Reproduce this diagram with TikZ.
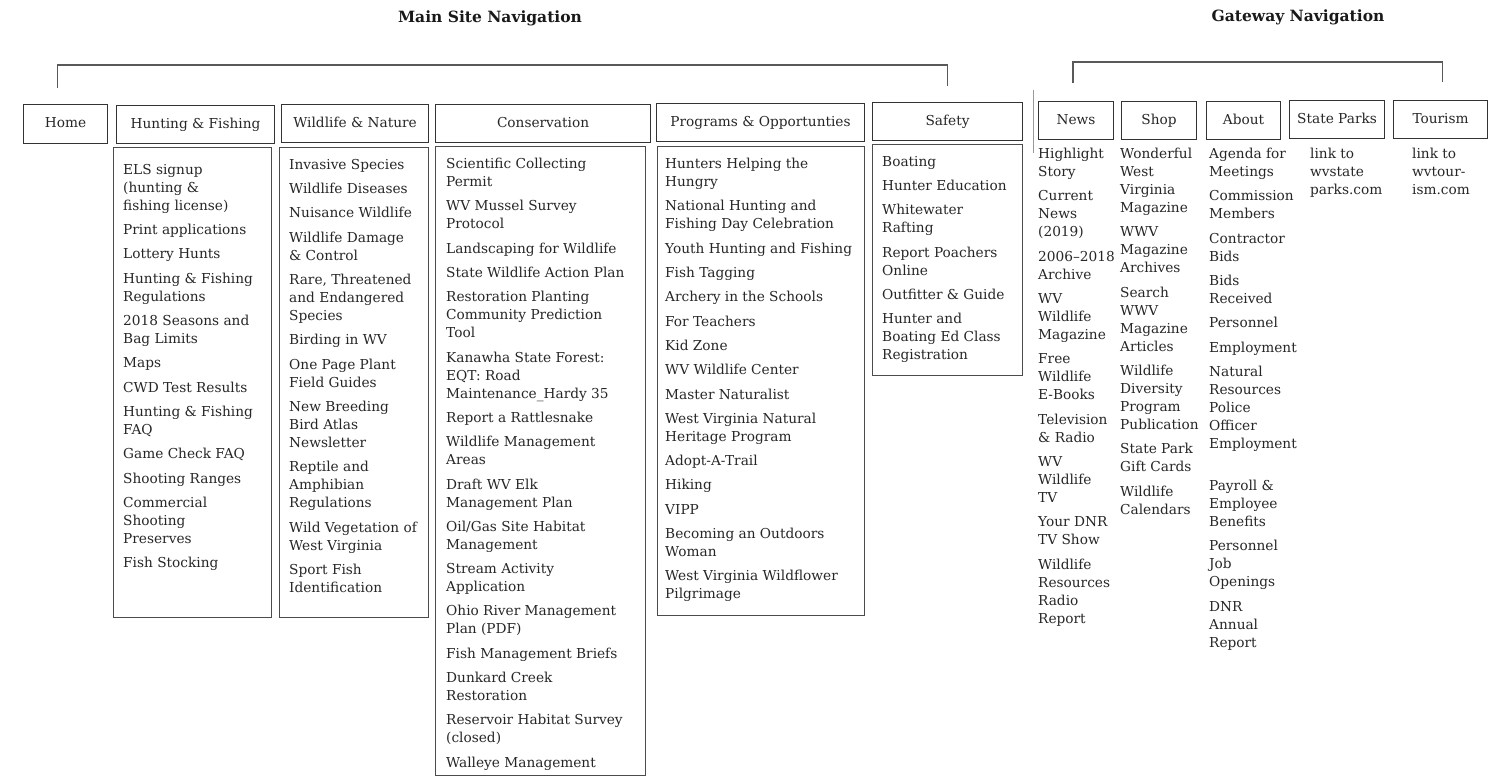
\documentclass[tikz,border=0pt]{standalone}
\usepackage{fontspec}
\setmainfont{DejaVu Serif}
\usetikzlibrary{positioning}
\newcommand{\nextitem}{\\[6.3pt]}

\begin{document}
\begin{tikzpicture}[x=1pt,y=-1pt,
    navbox/.style={draw=black!80,line width=1.1pt,anchor=north west,inner sep=0pt,
      font=\fontsize{13.7}{18}\selectfont,text=black!85,execute at begin node=\strut},
    listbox/.style={draw=black!70,line width=1.1pt,anchor=north west,inner sep=0pt},
    navlist/.style={anchor=north west,align=left,inner sep=0pt,
      font=\fontsize{13.7}{18}\selectfont,text=black!85,execute at begin node=\strut},
    navtitle/.style={font=\fontsize{15.5}{18}\bfseries\selectfont,text=black!90},
    bracket/.style={draw=black!65,line width=1.4pt}]
      \useasboundingbox (0,0) rectangle (1496,776);
      \node[navtitle] (maintitle) at (490,18) {Main Site Navigation};
      \node[navtitle] (gatetitle) at (1298,17) {Gateway Navigation};
      \node[navbox,minimum width=84pt,minimum height=39pt] (home) at (23,104) {Home};
      \node[navbox,minimum width=158pt,minimum height=38pt] (hunt) at (116,105) {Hunting \& Fishing};
      \node[navbox,minimum width=147pt,minimum height=38pt] (wild) at (281,104) {Wildlife \& Nature};
      \node[navbox,minimum width=215pt,minimum height=38pt] (cons) at (435,104) {Conservation};
      \node[navbox,minimum width=208pt,minimum height=38pt] (prog) at (656,103) {Programs \& Opportunties};
      \node[navbox,minimum width=150pt,minimum height=38pt] (safety) at (872,102) {Safety};
      \node[navbox,minimum width=75pt,minimum height=38pt] (news) at (1038,101) {News};
      \node[navbox,minimum width=75pt,minimum height=38pt] (shop) at (1121,101) {Shop};
      \node[navbox,minimum width=74pt,minimum height=38pt] (about) at (1206,101) {About};
      \node[navbox,minimum width=95pt,minimum height=38pt] (parks) at (1289,100) {State Parks};
      \node[navbox,minimum width=94pt,minimum height=38pt] (tourism) at (1393,100) {Tourism};
      \coordinate (mainL) at ([xshift=-8pt,yshift=16pt]home.north);
      \coordinate (mainR) at ([yshift=16pt]safety.north);
      \draw[bracket] (mainL) -- ++(0,-23) -| (mainR);
      \coordinate (gateL) at ([xshift=-3pt,yshift=18pt]news.north);
      \coordinate (gateR) at ([xshift=2pt,yshift=18pt]tourism.north);
      \draw[bracket] (gateL) -- ++(0,-21) -| (gateR);
      \draw[black!40,line width=0.8pt] (1033,90) -- (1033,153);
      \node[listbox,minimum width=158pt,minimum height=470pt] (huntbox) at (113,147) {};
      \node[listbox,minimum width=149pt,minimum height=470pt] (wildbox) at (279,147) {};
      \node[listbox,minimum width=210pt,minimum height=629pt] (consbox) at (435,146) {};
      \node[listbox,minimum width=207pt,minimum height=469pt] (progbox) at (657,146) {};
      \node[listbox,minimum width=150pt,minimum height=231pt] (safebox) at (872,144) {};
      \node[navlist] (huntlist) at (123,164) {ELS signup\\(hunting \&\\fishing license)\nextitem
        Print applications\nextitem Lottery Hunts\nextitem
        Hunting \& Fishing\\Regulations\nextitem 2018 Seasons and\\Bag Limits\nextitem
        Maps\nextitem CWD Test Results\nextitem Hunting \& Fishing\\FAQ\nextitem
        Game Check FAQ\nextitem Shooting Ranges\nextitem
        Commercial\\Shooting\\Preserves\nextitem Fish Stocking};
      \node[navlist] (wildlist) at (289,159) {Invasive Species\nextitem Wildlife Diseases\nextitem
        Nuisance Wildlife\nextitem Wildlife Damage\\\& Control\nextitem
        Rare, Threatened\\and Endangered\\Species\nextitem Birding in WV\nextitem
        One Page Plant\\Field Guides\nextitem New Breeding\\Bird Atlas\\Newsletter\nextitem
        Reptile and\\Amphibian\\Regulations\nextitem Wild Vegetation of\\West Virginia\nextitem
        Sport Fish\\Identification};
      \node[navlist] (conslist) at (446,158) {Scientific Collecting\\Permit\nextitem
        WV Mussel Survey\\Protocol\nextitem Landscaping for Wildlife\nextitem
        State Wildlife Action Plan\nextitem
        Restoration Planting\\Community Prediction\\Tool\nextitem
        Kanawha State Forest:\\EQT: Road\\Maintenance\_Hardy 35\nextitem
        Report a Rattlesnake\nextitem Wildlife Management\\Areas\nextitem
        Draft WV Elk\\Management Plan\nextitem Oil/Gas Site Habitat\\Management\nextitem
        Stream Activity\\Application\nextitem Ohio River Management\\Plan (PDF)\nextitem
        Fish Management Briefs\nextitem Dunkard Creek\\Restoration\nextitem
        Reservoir Habitat Survey\\(closed)\nextitem Walleye Management};
      \node[navlist] (proglist) at (665,158) {Hunters Helping the\\Hungry\nextitem
        National Hunting and\\Fishing Day Celebration\nextitem
        Youth Hunting and Fishing\nextitem Fish Tagging\nextitem
        Archery in the Schools\nextitem For Teachers\nextitem Kid Zone\nextitem
        WV Wildlife Center\nextitem Master Naturalist\nextitem
        West Virginia Natural\\Heritage Program\nextitem Adopt-A-Trail\nextitem
        Hiking\nextitem VIPP\nextitem Becoming an Outdoors\\Woman\nextitem
        West Virginia Wildflower\\Pilgrimage};
      \node[navlist] (safelist) at (882,156) {Boating\nextitem Hunter Education\nextitem
        Whitewater\\Rafting\nextitem Report Poachers\\Online\nextitem
        Outfitter \& Guide\nextitem Hunter and\\Boating Ed Class\\Registration};
      \node[navlist] (newslist) at (1038,148) {Highlight\\Story\nextitem
        Current\\News\\(2019)\nextitem 2006–2018\\Archive\nextitem
        WV\\Wildlife\\Magazine\nextitem Free\\Wildlife\\E-Books\nextitem
        Television\\\& Radio\nextitem WV\\Wildlife\\TV\nextitem
        Your DNR\\TV Show\nextitem Wildlife\\Resources\\Radio\\Report};
      \node[navlist] (shoplist) at (1120,148) {Wonderful\\West\\Virginia\\Magazine\nextitem
        WWV\\Magazine\\Archives\nextitem Search\\WWV\\Magazine\\Articles\nextitem
        Wildlife\\Diversity\\Program\\Publication\nextitem
        State Park\\Gift Cards\nextitem Wildlife\\Calendars};
      \node[navlist] (aboutlist) at (1209,148) {Agenda for\\Meetings\nextitem
        Commission\\Members\nextitem Contractor\\Bids\nextitem Bids\\Received\nextitem
        Personnel\nextitem Employment\nextitem
        Natural\\Resources\\Police\\Officer\\Employment\\[24pt]
        Payroll \&\\Employee\\Benefits\nextitem Personnel\\Job\\Openings\nextitem
        DNR\\Annual\\Report};
      \node[navlist] (parkslist) at (1310,148) {link to\\wvstate\\parks.com};
      \node[navlist] (tourlist) at (1412,148) {link to\\wvtour-\\ism.com};
    \end{tikzpicture}
\end{document}
